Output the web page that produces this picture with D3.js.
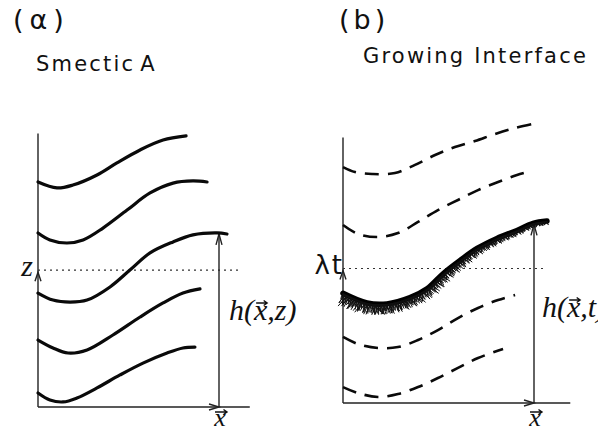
<!DOCTYPE html>
<html>
  <head>
    <meta charset="UTF-8">
    <script src="https://d3js.org/d3.v7.min.js"></script>
    <style>
        body { margin: 0; background: #fff; }
        svg { display: block; }
        .hand { font-family: "DejaVu Sans", sans-serif; fill: #111; }
        .math { font-family: "Liberation Serif", serif; fill: #111; }
    </style>
  </head>
  <body>
    <script>
        // layer profiles, [x, height] in sketch units (x: 0 = axis, 10 = arrow position)
        let smecticLayers = [
            [[0, 12.5], [1.05, 12.17], [1.93, 12.33], [3.26, 12.89], [4.36, 13.56], [5.64, 14.28], [6.91, 14.83], [8.18, 15.06]],
            [[0, 9.67], [0.66, 9.28], [1.6, 9.11], [2.49, 9.28], [3.59, 9.94], [4.92, 10.94], [6.19, 11.89], [7.46, 12.44], [8.56, 12.56], [9.34, 12.5]],
            [[0, 6.33], [0.83, 5.94], [1.77, 5.83], [2.71, 5.94], [3.98, 6.67], [5.08, 7.61], [6.19, 8.56], [7.46, 9.17], [8.56, 9.56], [9.89, 9.67], [10.44, 9.61]],
            [[0, 3.72], [0.83, 3.28], [1.66, 3.0], [2.71, 3.17], [4.14, 4.0], [5.64, 5.0], [6.91, 5.78], [8.01, 6.33], [8.95, 6.56]],
            [[0, 0.78], [0.66, 0.39], [1.38, 0.28], [2.15, 0.5], [3.26, 1.06], [4.53, 1.78], [5.8, 2.44], [7.13, 3.0], [8.01, 3.28], [8.67, 3.33]]
        ]
        let pastFutureFronts = [
            [[0, 13.33], [0.63, 13.05], [1.52, 12.94], [2.72, 12.99], [3.77, 13.45], [4.82, 14.01], [5.86, 14.46], [6.91, 14.8], [7.96, 15.2], [9.0, 15.54], [10.16, 15.82]],
            [[0, 10.06], [0.79, 9.55], [1.83, 9.38], [2.88, 9.6], [3.93, 10.23], [4.97, 10.9], [6.02, 11.47], [7.07, 12.03], [8.12, 12.49], [9.11, 12.88], [9.9, 13.11]],
            [[0, 3.73], [0.79, 3.33], [1.83, 3.11], [2.88, 3.16], [3.93, 3.56], [4.97, 4.12], [6.02, 4.8], [7.07, 5.37], [8.12, 5.82], [9.01, 6.1]],
            [[0, 0.9], [0.79, 0.56], [1.83, 0.34], [2.88, 0.51], [3.93, 0.9], [4.97, 1.41], [6.02, 1.98], [7.07, 2.54], [8.38, 3.05]]
        ]
        let interfaceFront = [[0, 6.2], [1.26, 5.65], [2.3, 5.6], [3.51, 5.95], [4.4, 6.45], [5.24, 7.3], [6.13, 8.05], [7.02, 8.73], [8.06, 9.3], [9.11, 9.75], [9.95, 10.15], [10.68, 10.28]]

        let levelZ = 7.6          // z  and  lambda t
        let arrowX = 10           // where h is measured
        let smecticTarget = 9.67  // h at arrowX, panel a
        let interfaceTarget = 10.15

        let svg = d3.select('body').append('svg')
            .attr('width', 598)
            .attr('height', 431)

        svg.append('rect').attr('width', 598).attr('height', 431).attr('fill', '#fff')

        let panels = [
            {x: d3.scaleLinear().domain([0, 10]).range([38, 219]), y: d3.scaleLinear().domain([0, 15]).range([407, 137]),
             xEnd: 11.7, yEnd: 15.2, dotEnd: 11.16, target: smecticTarget, level: 'z', h: 'h(x,z)', hx: 229, hy: 320},
            {x: d3.scaleLinear().domain([0, 10]).range([343, 534]), y: d3.scaleLinear().domain([0, 15]).range([403, 137.5]),
             xEnd: 11.9, yEnd: 15.0, dotEnd: 10.68, target: interfaceTarget, level: 'λt', h: 'h(x,t)', hx: 542, hy: 317}
        ]

        let vecArrow = (g, cx, y, w) => {
            g.append('path')
                .attr('d', `M${cx - w / 2},${y}L${cx + w / 2},${y}M${cx + w / 2 - 3.5},${y - 2.5}L${cx + w / 2},${y}L${cx + w / 2 - 3.5},${y + 2.5}`)
                .attr('fill', 'none').attr('stroke', '#111').attr('stroke-width', 1.4)
        }

        panels.forEach((p, i) => {
            let g = svg.append('g')
            let axisStyle = sel => sel.attr('fill', 'none').attr('stroke', '#222').attr('stroke-width', 1.4)

            // axes
            g.append('line').call(axisStyle)
                .attr('x1', p.x(0)).attr('x2', p.x(0)).attr('y1', p.y(0)).attr('y2', p.y(p.yEnd))
            g.append('line').call(axisStyle)
                .attr('x1', p.x(0)).attr('x2', p.x(p.xEnd)).attr('y1', p.y(0)).attr('y2', p.y(0))

            // arrowheads: up at the level on the vertical axis, right at arrowX on the base
            let tipY = p.y(levelZ) + 2
            g.append('path').call(axisStyle)
                .attr('d', `M${p.x(0) - 3},${tipY + 9}L${p.x(0)},${tipY}L${p.x(0) + 3},${tipY + 9}`)
            g.append('path').call(axisStyle)
                .attr('d', `M${p.x(arrowX) - 10},${p.y(0) - 3}L${p.x(arrowX)},${p.y(0)}L${p.x(arrowX) - 10},${p.y(0) + 3}`)

            // dotted level line
            g.append('line')
                .attr('x1', p.x(0)).attr('x2', p.x(p.dotEnd))
                .attr('y1', p.y(levelZ)).attr('y2', p.y(levelZ))
                .attr('stroke', '#333').attr('stroke-width', 1.2).attr('stroke-dasharray', '2,4')

            // h arrow
            g.append('line').call(axisStyle)
                .attr('x1', p.x(arrowX)).attr('x2', p.x(arrowX)).attr('y1', p.y(0)).attr('y2', p.y(p.target))
            let hy = p.y(p.target) + 1
            g.append('path').call(axisStyle)
                .attr('d', `M${p.x(arrowX) - 3},${hy + 11}L${p.x(arrowX)},${hy}L${p.x(arrowX) + 3},${hy + 11}`)

            // labels
            if (i === 0) {
                g.append('text')
                    .attr('class', 'math')
                    .attr('font-size', 30)
                    .attr('font-style', 'italic')
                    .attr('text-anchor', 'end')
                    .attr('x', p.x(0) - 5)
                    .attr('y', p.y(levelZ) + 6)
                    .text(p.level)
            } else {
                g.append('text')
                    .attr('class', 'hand')
                    .attr('font-size', 26)
                    .attr('letter-spacing', 2)
                    .attr('text-anchor', 'end')
                    .attr('x', p.x(0) + 1)
                    .attr('y', p.y(levelZ) + 6)
                    .text(p.level)
            }

            g.append('text')
                .attr('class', 'math')
                .attr('font-size', 26)
                .attr('font-style', 'italic')
                .attr('text-anchor', 'middle')
                .attr('x', p.x(arrowX) + 1)
                .attr('y', 426)
                .text('x')
            vecArrow(g, p.x(arrowX) + 2, 412, 12)

            let ht = g.append('text')
                .attr('class', 'math')
                .attr('font-size', 30)
                .attr('font-style', 'italic')
                .attr('x', p.hx)
                .attr('y', p.hy)
                .text(p.h)
            let node = ht.node()
            let s = node.getStartPositionOfChar(2), e = node.getEndPositionOfChar(2)
            vecArrow(g, (s.x + e.x) / 2 + 1, p.hy - 17, 11)
        })

        // panel a: smectic layers, solid
        let pa = panels[0]
        let lineA = d3.line().x(d => pa.x(d[0])).y(d => pa.y(d[1])).curve(d3.curveCatmullRom)
        svg.append('g').selectAll('path')
            .data(smecticLayers)
            .enter()
            .append('path')
            .attr('d', lineA)
            .attr('fill', 'none')
            .attr('stroke', '#0a0a0a')
            .attr('stroke-width', 3.2)
            .attr('stroke-linecap', 'round')

        // panel b: past and future fronts, dashed
        let pb = panels[1]
        let lineB = d3.line().x(d => pb.x(d[0])).y(d => pb.y(d[1])).curve(d3.curveCatmullRom)
        svg.append('g').selectAll('path')
            .data(pastFutureFronts)
            .enter()
            .append('path')
            .attr('d', lineB)
            .attr('fill', 'none')
            .attr('stroke', '#0a0a0a')
            .attr('stroke-width', 2.6)
            .attr('stroke-dasharray', '14,9')

        // the growing interface: heavy line with fuzz hanging below it
        let front = svg.append('path')
            .attr('d', lineB(interfaceFront))
            .attr('fill', 'none')
            .attr('stroke', '#000')
            .attr('stroke-width', 5.5)
            .attr('stroke-linecap', 'round')
        let fp = front.node()
        let len = fp.getTotalLength()
        let fuzz = svg.append('g').attr('stroke', '#111').attr('stroke-width', 1)
        for (let l = 0, k = 0; l < len; l += 0.5, k++) {
            let t = l / len
            let a = fp.getPointAtLength(Math.max(0, l - 1)), b = fp.getPointAtLength(Math.min(len, l + 1))
            let dx = b.x - a.x, dy = b.y - a.y, n = Math.hypot(dx, dy) || 1
            let nx = -dy / n, ny = dx / n
            let depth = (12 - 8 * t) * (0.4 + 0.6 * Math.abs(Math.sin(k * 2.37)))
            let tilt = 0.4 * Math.sin(k * 1.13)
            let p0 = fp.getPointAtLength(l)
            fuzz.append('line')
                .attr('x1', p0.x).attr('y1', p0.y)
                .attr('x2', p0.x + (nx + tilt) * depth).attr('y2', p0.y + ny * depth)
        }

        // titles
        svg.append('text').attr('class', 'hand').attr('font-size', 27).attr('letter-spacing', 6)
            .attr('x', 13).attr('y', 29).text('(α)')
        svg.append('text').attr('class', 'hand').attr('font-size', 21).attr('letter-spacing', 2.2)
            .attr('word-spacing', -4)
            .attr('x', 36).attr('y', 71).text('Smectic A')
        svg.append('text').attr('class', 'hand').attr('font-size', 27).attr('letter-spacing', 4)
            .attr('x', 339).attr('y', 29).text('(b)')
        svg.append('text').attr('class', 'hand').attr('font-size', 21).attr('letter-spacing', 2.2)
            .attr('x', 363).attr('y', 63).text('Growing Interface')
    </script>
  </body>
</html>
